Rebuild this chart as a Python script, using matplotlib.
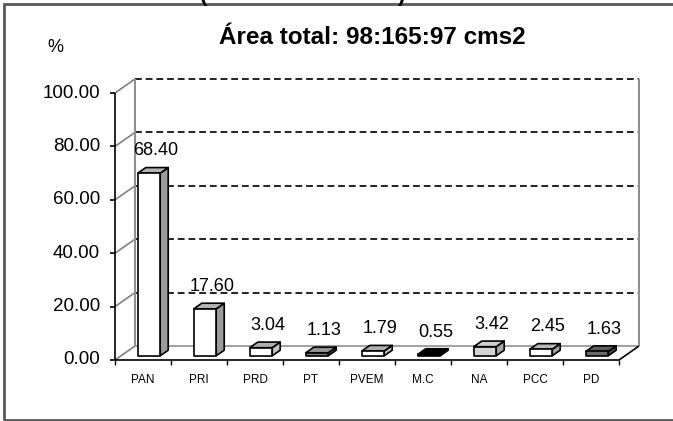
import numpy as np
import matplotlib.pyplot as plt
from matplotlib.patches import Polygon, Rectangle

plt.rcParams['font.family'] = ['Liberation Sans', 'DejaVu Sans']

# data
parties = ['PAN', 'PRI', 'PRD', 'PT', 'PVEM', 'M.C', 'NA', 'PCC', 'PD']
percent = [68.40, 17.60, 3.04, 1.13, 1.79, 0.55, 3.42, 2.45, 1.63]
y_ticks = [0, 20, 40, 60, 80, 100]
front_col = ['white', 'white', 'white', '#7a7a7a', 'white', 'black', '#d4d4d4', 'white', '#6a6a6a']
top_col = ['#b4b4b4', '#b4b4b4', '#b0b0b0', '#959595', '#b0b0b0', 'black', '#d0d0d0', '#b8b8b8', '#606060']
side_col = ['#9c9c9c', '#9c9c9c', '#c4c4c4', '#5a5a5a', '#c4c4c4', 'black', '#a8a8a8', '#a0a0a0', '#4a4a4a']

W, H = 673, 421
fig = plt.figure(figsize=(W / 100, H / 100), dpi=100)

# front plot area in pixels
left, right, top, bottom = 115, 619, 93, 360
ax = fig.add_axes([left / W, 1 - bottom / H, (right - left) / W, (bottom - top) / H])
n = len(parties)
ax.set_xlim(0, n)
ax.set_ylim(0, 100)
ax.axis('off')

# depth offset of the 3d box (categories, percent)
DX = 20 / 56
DY = 14 / ((bottom - top) / 100)


def pt(x, y, d):
    return (x + d * DX, y + d * DY)


def line(p, q, **kw):
    ax.plot([p[0], q[0]], [p[1], q[1]], clip_on=False, solid_capstyle='butt', **kw)


# walls
for v in y_ticks:
    line(pt(0, v, 0), pt(0, v, 1), color='#808080', lw=1.2, zorder=1)
    if v > 0:
        line(pt(0, v, 1), pt(n, v, 1), color='#222222', lw=1.4, ls=(0, (3.5, 2)), zorder=1)
    # tick marks on the value axis
    line((0, v), (-0.09, v), color='black', lw=1.2, zorder=3)
line(pt(0, 0, 1), pt(0, 100, 1), color='#909090', lw=1.5, zorder=1)
line(pt(n, 0, 1), pt(n, 100, 1), color='#909090', lw=1.5, zorder=1)
line(pt(0, 0, 1), pt(n, 0, 1), color='#909090', lw=1.2, zorder=1)
line(pt(n, 0, 0), pt(n, 0, 1), color='black', lw=1.2, zorder=3)
line((0, 0), (n, 0), color='black', lw=1.2, zorder=3)
line((0, 0), (0, 100), color='black', lw=1.2, zorder=3)
for i in range(n + 1):
    line((i, 0), (i, -1.9), color='black', lw=1.0, zorder=3)

# bars
x0, x1, d0, d1 = 0.3, 0.7, 0.3, 0.7
for i, v in enumerate(percent):
    a, b = i + x0, i + x1
    front = [pt(a, 0, d0), pt(b, 0, d0), pt(b, v, d0), pt(a, v, d0)]
    side = [pt(b, 0, d0), pt(b, 0, d1), pt(b, v, d1), pt(b, v, d0)]
    topf = [pt(a, v, d0), pt(b, v, d0), pt(b, v, d1), pt(a, v, d1)]
    for poly, c in [(side, side_col[i]), (topf, top_col[i]), (front, front_col[i])]:
        ax.add_patch(Polygon(poly, closed=True, fc=c, ec='black', lw=1.2,
                             joinstyle='round', clip_on=False, zorder=4))
    lx, ly = pt(i + 0.5, v, d1)
    ax.annotate(f'{v:.2f}', (i + 0.55 + 0.5 * DX, ly), xytext=(0, 12),
                textcoords='offset points', ha='center', va='center',
                fontsize=13, zorder=5)
    ax.text(i + 0.5, -7.5, parties[i], ha='center', va='center', fontsize=8.5)

for v in y_ticks:
    ax.text(-0.27, v, f'{v:.2f}', ha='right', va='center', fontsize=13.5)

fig.text(55 / W, 1 - 47 / H, '%', ha='center', va='center', fontsize=13)
fig.text(372 / W, 1 - 38 / H, 'Área total: 98:165:97 cms2', ha='center', va='center',
         fontsize=17.5, fontweight='bold')
# clipped heading above the frame
fig.text(204 / W, 1 - 1 / H, '(', ha='center', va='baseline', fontsize=16, fontweight='bold')
fig.text(401 / W, 1 - 1 / H, ')', ha='center', va='baseline', fontsize=16, fontweight='bold')

# outer frame
fig.patches.append(Rectangle((4 / W, 1 - 420 / H), 1.0, 416 / H, transform=fig.transFigure,
                             fill=False, ec='#5a5a5a', lw=2))

fig.savefig('out.png', dpi=100)
